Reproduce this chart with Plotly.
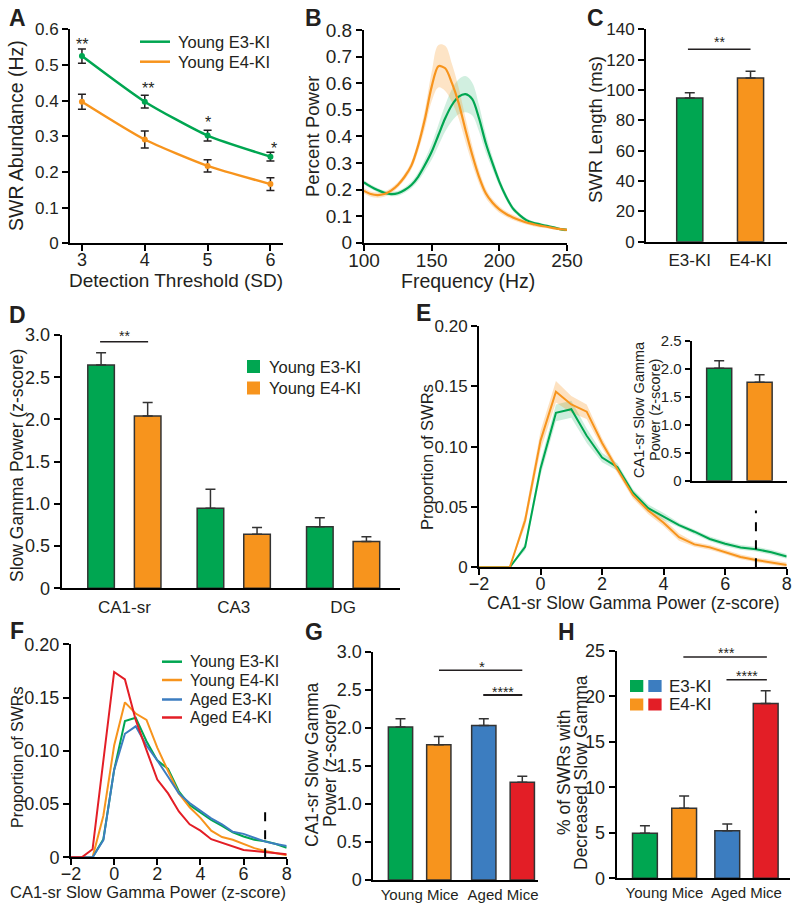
import plotly.graph_objects as go

W, H = 800, 906
GREEN, ORANGE, BLUE, RED = '#00A651', '#F7941D', '#3C7DC0', '#E31E26'
INK = '#231F20'
FONT = 'Liberation Sans, Arial, sans-serif'

# ---------------- data ----------------
thresholds = [3, 4, 5, 6]
A_e3 = [0.525, 0.397, 0.302, 0.243]
A_e3_err = [0.020, 0.018, 0.015, 0.012]
A_e4 = [0.397, 0.291, 0.217, 0.166]
A_e4_err = [0.021, 0.024, 0.017, 0.018]

freq = [100, 105, 110, 115, 120, 125, 130, 135, 140, 145, 150, 155, 160, 165, 170,
        175, 180, 185, 190, 195, 200, 205, 210, 215, 220, 225, 230, 235, 240, 245, 250]
B_e3 = [0.227, 0.211, 0.198, 0.188, 0.183, 0.186, 0.198, 0.217, 0.248, 0.292, 0.342, 0.405,
        0.468, 0.518, 0.549, 0.559, 0.540, 0.468, 0.374, 0.298, 0.229, 0.173, 0.129, 0.104,
        0.085, 0.075, 0.069, 0.063, 0.058, 0.051, 0.048]
B_e3_sem = [0.008, 0.008, 0.008, 0.008, 0.008, 0.009, 0.010, 0.012, 0.016, 0.022, 0.030, 0.040,
            0.050, 0.060, 0.066, 0.068, 0.062, 0.050, 0.035, 0.024, 0.016, 0.012, 0.010, 0.008,
            0.007, 0.006, 0.006, 0.005, 0.005, 0.005, 0.004]
B_e4 = [0.195, 0.183, 0.179, 0.183, 0.196, 0.217, 0.248, 0.290, 0.365, 0.465, 0.587, 0.664,
        0.656, 0.600, 0.524, 0.424, 0.330, 0.248, 0.186, 0.150, 0.125, 0.108, 0.095, 0.085,
        0.076, 0.070, 0.064, 0.060, 0.055, 0.051, 0.048]
B_e4_sem = [0.010, 0.010, 0.010, 0.010, 0.010, 0.010, 0.012, 0.015, 0.022, 0.035, 0.055, 0.080,
            0.085, 0.072, 0.058, 0.045, 0.035, 0.025, 0.018, 0.014, 0.012, 0.010, 0.010, 0.009,
            0.008, 0.008, 0.007, 0.006, 0.005, 0.005, 0.004]

C_labels = ['E3-KI', 'E4-KI']
C_vals = [94.7, 107.9]
C_err = [3.5, 4.4]

regions = ['CA1-sr', 'CA3', 'DG']
D_e3 = [2.645, 0.947, 0.730]
D_e3_err = [0.145, 0.225, 0.107]
D_e4 = [2.040, 0.640, 0.553]
D_e4_err = [0.160, 0.080, 0.059]

zscore = [-2, -1.5, -1, -0.5, 0, 0.5, 1, 1.5, 2, 2.5, 3, 3.5, 4, 4.5, 5, 5.5, 6, 6.5, 7, 7.5, 8]
young_e3 = [0, 0, 0, 0.017, 0.082, 0.128, 0.131, 0.109, 0.091, 0.083, 0.062, 0.049, 0.042,
            0.035, 0.0295, 0.0235, 0.0195, 0.0165, 0.015, 0.0125, 0.009]
young_e3_sem = [0, 0, 0, 0.003, 0.006, 0.007, 0.007, 0.006, 0.004, 0.003, 0.003, 0.003, 0.003,
                0.002, 0.002, 0.002, 0.002, 0.002, 0.002, 0.002, 0.002]
young_e4 = [0, 0, 0, 0.039, 0.105, 0.1455, 0.135, 0.129, 0.103, 0.081, 0.060, 0.047, 0.037,
            0.025, 0.019, 0.0165, 0.0128, 0.0086, 0.006, 0.004, 0.002]
young_e4_sem = [0, 0, 0, 0.005, 0.008, 0.009, 0.007, 0.006, 0.004, 0.003, 0.003, 0.003, 0.003,
                0.003, 0.002, 0.002, 0.002, 0.002, 0.002, 0.002, 0.002]
aged_e3 = [0, 0, 0, 0.016, 0.082, 0.116, 0.123, 0.105, 0.091, 0.0756, 0.060, 0.051, 0.044,
           0.0366, 0.031, 0.024, 0.022, 0.018, 0.0147, 0.0125, 0.0106]
aged_e4 = [0, 0, 0.0075, 0.088, 0.174, 0.167, 0.129, 0.1006, 0.073, 0.060, 0.043, 0.031, 0.025,
           0.017, 0.0138, 0.010, 0.0069, 0.006, 0.0047, 0.0038, 0.0028]
threshold_z = 7
threshold_marker_top = 0.047

E_inset = [2.006, 1.760]
E_inset_err = [0.134, 0.130]

age_groups = ['Young Mice', 'Aged Mice']
G_vals = [2.009, 1.776, 2.030, 1.285]
G_err = [0.109, 0.110, 0.090, 0.079]
H_vals = [4.94, 7.69, 5.23, 19.2]
H_err = [0.84, 1.35, 0.74, 1.40]

# ---------------- helpers ----------------
def X(px):
    return px / W

def Y(py):
    return 1 - py / H

def xdom(a, b):
    return [X(a), X(b)]

def ydom(top, bottom):
    return [Y(bottom), Y(top)]

def tf(size):
    return dict(size=size, color=INK, family=FONT)

def axstyle(**kw):
    d = dict(showline=True, linecolor='black', linewidth=2, ticks='outside', ticklen=6,
             tickwidth=2, tickcolor='black', showgrid=False, zeroline=False, automargin=False,
             tickangle=0, tickfont=tf(18), fixedrange=True)
    d.update(kw)
    return d

def fmt(v, dec):
    return '0' if v == 0 else f'{v:.{dec}f}'

fig = go.Figure()
annotations = []
shapes = []

def ann(text, px, py, size=17, angle=0, bold=False, xanchor='center'):
    annotations.append(dict(text=f'<b>{text}</b>' if bold else text, x=X(px), y=Y(py),
                            xref='paper', yref='paper', showarrow=False, textangle=angle,
                            xanchor=xanchor, yanchor='middle', font=tf(size)))

def star(text, px, py, size=15):
    # py = visible centre of the asterisks; glyphs sit high in the text box
    ann(text, px, py + 0.3 * size, size)

def dline(x0, x1, y, xr, yr, width=1.5):
    shapes.append(dict(type='line', x0=x0, x1=x1, y0=y, y1=y, xref=xr, yref=yr,
                       line=dict(color=INK, width=width)))

def bar_err(arr):
    return dict(type='data', array=arr, arrayminus=[0] * len(arr), symmetric=False,
                color='#333333', thickness=1.5, width=5)

# ---------------- A ----------------
for vals, errs, col in [(A_e4, A_e4_err, ORANGE), (A_e3, A_e3_err, GREEN)]:
    fig.add_trace(go.Scatter(x=thresholds, y=vals, mode='lines+markers',
                             line=dict(color=col, width=2.5, shape='spline', smoothing=0.6),
                             marker=dict(size=6, color=col),
                             error_y=dict(type='data', array=errs, color=INK, thickness=1.5, width=4),
                             xaxis='x', yaxis='y', showlegend=False))
for s, px, py in [('**', 82, 39.3), ('**', 148, 83.3), ('*', 208, 117.3), ('*', 274, 143.3)]:
    star(s, px, py, 16)

# ---------------- B ----------------
for mean, sem, col, fc in [(B_e3, B_e3_sem, GREEN, 'rgba(0,166,81,0.18)'),
                           (B_e4, B_e4_sem, ORANGE, 'rgba(247,148,29,0.25)')]:
    up = [m + s for m, s in zip(mean, sem)]
    lo = [m - s for m, s in zip(mean, sem)]
    fig.add_trace(go.Scatter(x=freq + freq[::-1], y=up + lo[::-1], fill='toself', fillcolor=fc,
                             line=dict(width=0, shape='spline'), mode='lines', hoverinfo='skip',
                             xaxis='x2', yaxis='y2', showlegend=False))
for mean, col in [(B_e3, GREEN), (B_e4, ORANGE)]:
    fig.add_trace(go.Scatter(x=freq, y=mean, mode='lines',
                             line=dict(color=col, width=2.2, shape='spline', smoothing=0.8),
                             xaxis='x2', yaxis='y2', showlegend=False))

# ---------------- C ----------------
fig.add_trace(go.Bar(x=[0, 1], y=C_vals, width=0.43,
                     marker=dict(color=[GREEN, ORANGE], line=dict(color='#333333', width=1.5)),
                     error_y=bar_err(C_err), xaxis='x3', yaxis='y3', showlegend=False))
dline(-0.03, 1.0, 126.8, 'x3', 'y3')
star('**', 719, 38.3, 14)

# ---------------- D ----------------
off = 0.213
fig.add_trace(go.Bar(x=[i - off for i in range(len(regions))], y=D_e3, width=0.243,
                     marker=dict(color=GREEN, line=dict(color='#333333', width=1.5)),
                     error_y=bar_err(D_e3_err), xaxis='x4', yaxis='y4', showlegend=False))
fig.add_trace(go.Bar(x=[i + off for i in range(len(regions))], y=D_e4, width=0.243,
                     marker=dict(color=ORANGE, line=dict(color='#333333', width=1.5)),
                     error_y=bar_err(D_e4_err), xaxis='x4', yaxis='y4', showlegend=False))
dline(-0.222, 0.217, 2.92, 'x4', 'y4')
star('**', 124, 331.7, 14)

# ---------------- E ----------------
for mean, sem, col, fc in [(young_e3, young_e3_sem, GREEN, 'rgba(0,166,81,0.2)'),
                           (young_e4, young_e4_sem, ORANGE, 'rgba(247,148,29,0.28)')]:
    up = [m + s for m, s in zip(mean, sem)]
    lo = [max(m - s, 0) for m, s in zip(mean, sem)]
    fig.add_trace(go.Scatter(x=zscore + zscore[::-1], y=up + lo[::-1], fill='toself', fillcolor=fc,
                             line=dict(width=0), mode='lines', hoverinfo='skip',
                             xaxis='x5', yaxis='y5', showlegend=False))
for mean, col in [(young_e3, GREEN), (young_e4, ORANGE)]:
    fig.add_trace(go.Scatter(x=zscore, y=mean, mode='lines', line=dict(color=col, width=2),
                             xaxis='x5', yaxis='y5', showlegend=False))
shapes.append(dict(type='line', x0=threshold_z, x1=threshold_z, y0=0, y1=threshold_marker_top,
                   xref='x5', yref='y5', line=dict(color='black', width=2, dash='dash')))

# E inset
fig.add_trace(go.Bar(x=[0, 1], y=E_inset, width=0.62,
                     marker=dict(color=[GREEN, ORANGE], line=dict(color='#333333', width=1.5)),
                     error_y=bar_err(E_inset_err), xaxis='x6', yaxis='y6', showlegend=False))

# ---------------- F ----------------
for mean, col in [(young_e3, GREEN), (young_e4, ORANGE), (aged_e3, BLUE), (aged_e4, RED)]:
    fig.add_trace(go.Scatter(x=zscore, y=mean, mode='lines', line=dict(color=col, width=2),
                             xaxis='x7', yaxis='y7', showlegend=False))
shapes.append(dict(type='line', x0=threshold_z, x1=threshold_z, y0=0, y1=threshold_marker_top,
                   xref='x7', yref='y7', line=dict(color='black', width=2, dash='dash')))

# ---------------- G ----------------
gx = [0, 1, 2.175, 3.18]
fig.add_trace(go.Bar(x=gx, y=G_vals, width=0.634,
                     marker=dict(color=[GREEN, ORANGE, BLUE, RED], line=dict(color='#333333', width=1.5)),
                     error_y=bar_err(G_err), xaxis='x8', yaxis='y8', showlegend=False))
dline(1.005, 3.18, 2.756, 'x8', 'y8')
star('*', 482, 661.7, 15)
dline(2.16, 3.18, 2.43, 'x8', 'y8', 2)
star('****', 503, 687.3, 14)

# ---------------- H ----------------
hx = [0, 1, 2.1, 3.08]
fig.add_trace(go.Bar(x=hx, y=H_vals, width=0.633,
                     marker=dict(color=[GREEN, ORANGE, BLUE, RED], line=dict(color='#333333', width=1.5)),
                     error_y=bar_err(H_err), xaxis='x9', yaxis='y9', showlegend=False))
dline(0.98, 3.11, 24.3, 'x9', 'y9')
star('***', 726.7, 648.3, 14)
dline(2.08, 3.11, 21.8, 'x9', 'y9')
star('****', 746.7, 671.7, 14)

# ---------------- axes ----------------
lay = dict(
    xaxis=axstyle(domain=xdom(70, 283), range=[2.81, 6.2], anchor='y', tickvals=thresholds,
                  ticklabelstandoff=-7),
    yaxis=axstyle(domain=ydom(29.3, 243.3), range=[0, 0.6], anchor='x', tickfont=tf(17),
                  tickvals=[i / 10 for i in range(7)], ticktext=[fmt(i / 10, 1) for i in range(7)]),
    xaxis2=axstyle(domain=xdom(364, 567), range=[100, 250], anchor='y2', tickfont=tf(19),
                   tickvals=[100, 150, 200, 250], ticklabelstandoff=-7),
    yaxis2=axstyle(domain=ydom(30, 242.7), range=[0, 0.8], anchor='x2', tickfont=tf(19),
                   tickvals=[i / 10 for i in range(9)], ticktext=[fmt(i / 10, 1) for i in range(9)]),
    xaxis3=axstyle(domain=xdom(646, 787), range=[-0.72, 1.6], anchor='y3', ticks='',
                   tickvals=[0, 1], ticktext=C_labels, tickfont=tf(17), ticklabelstandoff=2),
    yaxis3=axstyle(domain=ydom(29.3, 241.7), range=[0, 140], anchor='x3', tickfont=tf(17),
                   tickvals=list(range(0, 141, 20))),
    xaxis4=axstyle(domain=xdom(61.7, 400), range=[-0.573, 2.52], anchor='y4', ticks='',
                   tickvals=[0, 1, 2], ticktext=regions, tickfont=tf(17), ticklabelstandoff=2),
    yaxis4=axstyle(domain=ydom(335, 588.3), range=[0, 3], anchor='x4',
                   tickvals=[i / 2 for i in range(7)], ticktext=[fmt(i / 2, 1) for i in range(7)]),
    xaxis5=axstyle(domain=xdom(479, 786.7), range=[-2, 8], anchor='y5', ticklabelstandoff=-7,
                   tickvals=[-2, 0, 2, 4, 6, 8]),
    yaxis5=axstyle(domain=ydom(326, 567.3), range=[0, 0.2], anchor='x5', tickfont=tf(17),
                   tickvals=[0, 0.05, 0.1, 0.15, 0.2], ticktext=['0', '0.05', '0.10', '0.15', '0.20']),
    xaxis6=axstyle(domain=xdom(691.7, 786.7), range=[-0.68, 1.67], anchor='y6', ticks='',
                   showticklabels=False),
    yaxis6=axstyle(domain=ydom(340.7, 480.7), range=[0, 2.5], anchor='x6', ticklen=5,
                   tickfont=tf(15),
                   tickvals=[i / 2 for i in range(6)], ticktext=[fmt(i / 2, 1) for i in range(6)]),
    xaxis7=axstyle(domain=xdom(71, 286.7), range=[-2, 8], anchor='y7', ticklabelstandoff=-7,
                   tickvals=[-2, 0, 2, 4, 6, 8]),
    yaxis7=axstyle(domain=ydom(644.3, 857.3), range=[0, 0.2], anchor='x7',
                   tickvals=[0, 0.05, 0.1, 0.15, 0.2], ticktext=['0', '0.05', '0.10', '0.15', '0.20']),
    xaxis8=axstyle(domain=xdom(373.3, 538), range=[-0.71, 3.59], anchor='y8', ticks='',
                   tickvals=[(gx[0] + gx[1]) / 2, (gx[2] + gx[3]) / 2], ticktext=age_groups,
                   tickfont=tf(15), ticklabelstandoff=0),
    yaxis8=axstyle(domain=ydom(651.7, 880), range=[0, 3], anchor='x8',
                   tickvals=[i / 2 for i in range(7)], ticktext=[fmt(i / 2, 1) for i in range(7)]),
    xaxis9=axstyle(domain=xdom(616.7, 790), range=[-0.72, 3.7], anchor='y9', ticks='',
                   tickvals=[(hx[0] + hx[1]) / 2, (hx[2] + hx[3]) / 2], ticktext=age_groups,
                   tickfont=tf(15), ticklabelstandoff=0),
    yaxis9=axstyle(domain=ydom(650.7, 878.3), range=[0, 25], anchor='x9',
                   tickvals=list(range(0, 26, 5))),
)

# ---------------- titles / letters ----------------
for letter, px, py in [('A', 17, 18), ('B', 313, 18), ('C', 595, 18), ('D', 17, 315),
                       ('E', 423, 313), ('F', 17, 631), ('G', 314, 632), ('H', 566, 632)]:
    ann(letter, px, py, size=23, bold=True)

ann('SWR Abundance (Hz)', 16, 136, 19.5, -90)
ann('Detection Threshold (SD)', 176, 280, 19)
ann('Percent Power', 312, 137, 18.5, -90)
ann('Frequency (Hz)', 468, 281, 19.5)
ann('SWR Length (ms)', 595, 130, 18.5, -90)
ann('Slow Gamma Power (z-score)', 17, 466, 17.5, -90)
ann('Proportion of SWRs', 427, 457, 16.5, -90)
ann('CA1-sr Slow Gamma Power (z-score)', 633, 603, 17.5)
ann('CA1-sr Slow Gamma', 639, 410, 14.5, -90)
ann('Power (z-score)', 655, 410, 14.5, -90)
ann('Proportion of SWRs', 17, 758, 16, -90)
ann('CA1-sr Slow Gamma Power (z-score)', 148, 892, 16.5)
ann('CA1-sr Slow Gamma', 312, 765, 17.5, -90)
ann('Power (z-score)', 330, 765, 17.5, -90)
ann('% of SWRs with', 564, 773, 17.5, -90)
ann('Decreased Slow Gamma', 581, 773, 17.5, -90)

# ---------------- legends ----------------
# A
for py, col, lab in [(41.7, GREEN, 'Young E3-KI'), (61.7, ORANGE, 'Young E4-KI')]:
    shapes.append(dict(type='line', x0=X(140), x1=X(170), y0=Y(py), y1=Y(py), xref='paper',
                       yref='paper', line=dict(color=col, width=2.5)))
    ann(lab, 176, py, 16.5, xanchor='left')
# D
for top, col, lab in [(360, GREEN, 'Young E3-KI'), (381.5, ORANGE, 'Young E4-KI')]:
    shapes.append(dict(type='rect', x0=X(247), x1=X(260), y0=Y(top + 13), y1=Y(top),
                       xref='paper', yref='paper', fillcolor=col, line=dict(width=0)))
    ann(lab, 267, top + 6.5, 16.5, xanchor='left')
# F
for py, col, lab in [(661.7, GREEN, 'Young E3-KI'), (680, ORANGE, 'Young E4-KI'),
                     (699.5, BLUE, 'Aged E3-KI'), (717.5, RED, 'Aged E4-KI')]:
    shapes.append(dict(type='line', x0=X(162), x1=X(182), y0=Y(py), y1=Y(py), xref='paper',
                       yref='paper', line=dict(color=col, width=2.5)))
    ann(lab, 187.5, py, 16, xanchor='left')
# H
for top, c1, c2, lab in [(680, GREEN, BLUE, 'E3-KI'), (698.5, ORANGE, RED, 'E4-KI')]:
    for x0, col in [(630, c1), (648.3, c2)]:
        shapes.append(dict(type='rect', x0=X(x0), x1=X(x0 + 13.3), y0=Y(top + 12), y1=Y(top),
                           xref='paper', yref='paper', fillcolor=col, line=dict(width=0)))
    ann(lab, 666.5, top + 6, 17, xanchor='left')

fig.update_layout(
    template='none',
    width=W, height=H, margin=dict(l=0, r=0, t=0, b=0, pad=0), autosize=False,
    paper_bgcolor='white', plot_bgcolor='rgba(0,0,0,0)',
    font=dict(family=FONT, size=17, color=INK),
    barmode='overlay', showlegend=False,
    annotations=annotations, shapes=shapes, **lay)

fig.write_html('out.html', config={'displayModeBar': False, 'staticPlot': True},
               post_script="document.body.style.margin='0';")
